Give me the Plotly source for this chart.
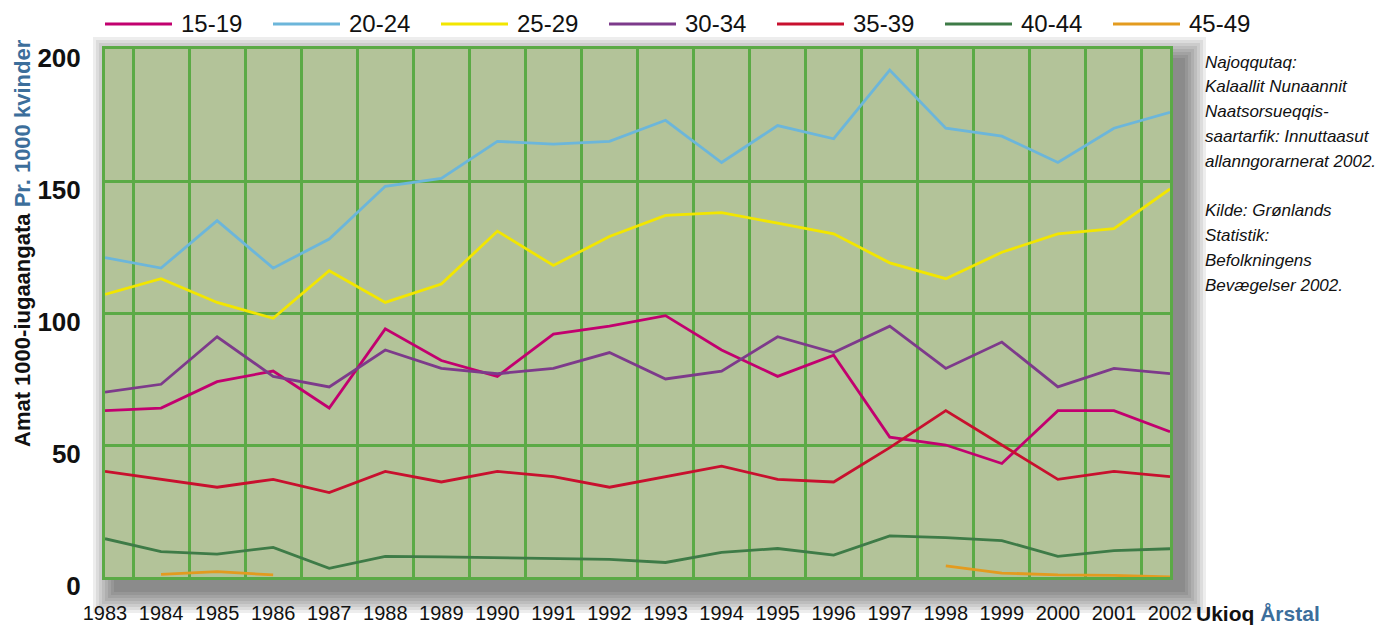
import plotly.graph_objects as go

# Fertility per 1000 women by age group, Greenland 1983-2002
years = [str(y) for y in range(1983, 2003)]

age_15_19 = [63, 64, 74, 78, 64, 94, 82, 76, 92, 95, 99, 86, 76, 84, 53, 50, 43, 63, 63, 55]
age_20_24 = [121, 117, 135, 117, 128, 148, 151, 165, 164, 165, 173, 157, 171, 166, 192, 170, 167, 157, 170, 176]
age_25_29 = [107, 113, 104, 98, 116, 104, 111, 131, 118, 129, 137, 138, 134, 130, 119, 113, 123, 130, 132, 147]
age_30_34 = [70, 73, 91, 76, 72, 86, 79, 77, 79, 85, 75, 78, 91, 85, 95, 79, 89, 72, 79, 77]
age_35_39 = [40, 37, 34, 37, 32, 40, 36, 40, 38, 34, 38, 42, 37, 36, 49, 63, 50, 37, 40, 38]
age_40_44 = [14.5, 9.6, 8.7, 11.2, 3.3, 7.8, 7.6, 7.3, 7.1, 6.7, 5.5, 9.3, 10.8, 8.3, 15.6, 14.9, 13.8, 7.8, 10.0, 10.7]
age_45_49 = [None, 1.0, 2.0, 0.8, None, None, None, None, None, None, None, None, None, None, None, 4.2, 1.5, 0.8, 0.6, 0.0]

series_names = ["15-19", "20-24", "25-29", "30-34", "35-39", "40-44", "45-49"]
series_values = [age_15_19, age_20_24, age_25_29, age_30_34, age_35_39, age_40_44, age_45_49]
series_colors = ["#C2006F", "#6CB6DA", "#F2E600", "#7D3A8B", "#C8102E", "#3E7B47", "#E39B1F"]

source_lines = ["Najoqqutaq:", "Kalaallit Nunaannit", "Naatsorsueqqis-", "saartarfik: Innuttaasut",
                "allanngorarnerat 2002.", "", "Kilde: Grønlands", "Statistik:", "Befolkningens",
                "Bevægelser 2002."]

FONT = "Liberation Sans, Arial, sans-serif"
GRID = "#5BAA46"
BLUE = "#3C6E9B"

# the page body adds an 8px margin top-left, so the figure is sized to end at the window edge
PAGE = 8
FIG_W, FIG_H = 1387 - PAGE, 627 - PAGE
# plot area in window pixels
PX0, PX1, PY0, PY1 = 105, 1170, 49, 577
L, T = PX0 - PAGE, PY0 - PAGE
R, B = FIG_W - (PX1 - PAGE), FIG_H - (PY1 - PAGE)
W = PX1 - PX0
H = PY1 - PY0


def px_x(px):
    return (px - PX0) / W


def px_y(py):
    return (PY1 - py) / H


fig = go.Figure()

for name, vals, color in zip(series_names, series_values, series_colors):
    fig.add_trace(go.Scatter(
        x=years,
        y=vals,
        mode='lines',
        name=name,
        line=dict(color=color, width=2.8),
        showlegend=False
    ))

shapes = []
# soft drop shadow behind the plot area
dx, dy = 12, 12
for k in range(8):
    pad = 3 + k * 3
    shapes.append(dict(
        type="rect", xref="paper", yref="paper", layer="below",
        x0=(dx - pad) / W, x1=1 + (dx + pad) / W,
        y0=-(dy + pad) / H, y1=1 - (dy - pad) / H,
        fillcolor="rgba(0,0,0,0.07)", line=dict(width=0)
    ))
# plot background drawn on top of the shadow
shapes.append(dict(
    type="rect", xref="paper", yref="paper", layer="below",
    x0=0, x1=1, y0=0, y1=1, fillcolor="#B3C399", line=dict(width=0)
))

annotations = []
# custom legend with long line samples
for i, (name, color) in enumerate(zip(series_names, series_colors)):
    x0 = PX0 + i * 168
    shapes.append(dict(
        type="line", xref="paper", yref="paper",
        x0=px_x(x0), x1=px_x(x0 + 67), y0=px_y(24), y1=px_y(24),
        line=dict(color=color, width=3)
    ))
    annotations.append(dict(
        text=name, xref="paper", yref="paper", x=px_x(x0 + 74), y=px_y(24),
        xanchor="left", yanchor="middle", showarrow=False,
        font=dict(family=FONT, size=24, color="#111111")
    ))

annotations.append(dict(
    text="<b>Amat 1000-iugaangata</b> <b><span style='color:%s'>Pr. 1000 kvinder</span></b>" % BLUE,
    xref="paper", yref="paper", x=px_x(22), y=px_y(243), textangle=-90,
    xanchor="center", yanchor="middle", showarrow=False,
    font=dict(family=FONT, size=22, color="#111111")
))

annotations.append(dict(
    text="<b>Ukioq</b> <b><span style='color:%s'>Årstal</span></b>" % BLUE,
    xref="paper", yref="paper", x=px_x(1194), y=px_y(613),
    xanchor="left", yanchor="middle", showarrow=False,
    font=dict(family=FONT, size=21, color="#111111")
))

for i, line in enumerate(source_lines):
    if not line:
        continue
    annotations.append(dict(
        text="<i>%s</i>" % line, xref="paper", yref="paper",
        x=px_x(1203), y=px_y(62 + i * 24.8),
        xanchor="left", yanchor="middle", align="left", showarrow=False,
        font=dict(family=FONT, size=17, color="#111111")
    ))

fig.update_layout(
    width=FIG_W,
    height=FIG_H,
    margin=dict(l=L, r=R, t=T, b=B),
    paper_bgcolor="white",
    plot_bgcolor="rgba(0,0,0,0)",
    showlegend=False,
    shapes=shapes,
    annotations=annotations,
    xaxis=dict(
        type="category",
        tickson="boundaries",
        showgrid=True, gridcolor=GRID, gridwidth=3,
        showline=True, linecolor=GRID, linewidth=3, mirror=True,
        ticks="", ticklabelstandoff=16, tickangle=0, automargin=False,
        tickfont=dict(family=FONT, size=20, color="#111111")
    ),
    yaxis=dict(
        range=[0, 200], tickvals=[0, 50, 100, 150, 200],
        showgrid=True, gridcolor=GRID, gridwidth=3, zeroline=False,
        showline=True, linecolor=GRID, linewidth=3, mirror=True,
        ticks="", ticklabelstandoff=16, ticklabelshift=9, automargin=False,
        tickfont=dict(family=FONT, size=26, color="#111111", weight="bold")
    )
)

fig.write_html("out.html")
